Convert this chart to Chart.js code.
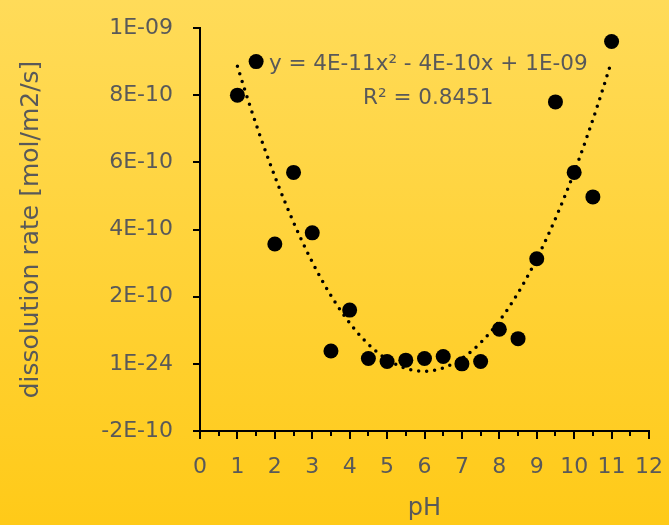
<!DOCTYPE html>
<html>
<head>
<meta charset="utf-8">
<script src="https://cdn.jsdelivr.net/npm/chart.js@4/dist/chart.umd.min.js"></script>
<style>
  html, body { margin: 0; padding: 0; background: #FFD23A; }
  #wrap { width: 669px; height: 525px; }
</style>
</head>
<body>
<div id="wrap"><canvas id="c" width="669" height="525"></canvas></div>
<script>
// Measured dissolution rates versus pH
const phValues = [1, 1.5, 2, 2.5, 3, 3.5, 4, 4.5, 5, 5.5, 6, 6.5, 7, 7.5, 8, 8.5, 9, 9.5, 10, 10.5, 11];
const rateValues = [8.0e-10, 9.0e-10, 3.57e-10, 5.7e-10, 3.9e-10, 0.38e-10, 1.6e-10, 0.16e-10, 0.07e-10, 0.11e-10,
                    0.16e-10, 0.22e-10, 0.0, 0.07e-10, 1.03e-10, 0.75e-10, 3.13e-10, 7.8e-10, 5.7e-10, 4.97e-10, 9.6e-10];

// Axis tick labels (spreadsheet-style scientific notation)
const yTickLabels = ['-2E-10', '1E-24', '2E-10', '4E-10', '6E-10', '8E-10', '1E-09'];
const xTickLabels = ['0', '1', '2', '3', '4', '5', '6', '7', '8', '9', '10', '11', '12'];

// Trendline annotation text
const trendLabels = ['y = 4E-11x\u00B2 - 4E-10x + 1E-09', 'R\u00B2 = 0.8451'];

const FONT = "'DejaVu Sans', 'Noto Sans', sans-serif";
const TEXT = '#595959';

// Least-squares quadratic fit of the measurements
function quadFit(xs, ys) {
  let s0 = xs.length, s1 = 0, s2 = 0, s3 = 0, s4 = 0, t0 = 0, t1 = 0, t2 = 0;
  for (let i = 0; i < xs.length; i++) {
    const x = xs[i], y = ys[i] * 1e10;
    s1 += x; s2 += x * x; s3 += x * x * x; s4 += x * x * x * x;
    t0 += y; t1 += x * y; t2 += x * x * y;
  }
  // Solve the normal equations with Cramer's rule
  const det3 = (m) => m[0][0] * (m[1][1] * m[2][2] - m[1][2] * m[2][1])
                    - m[0][1] * (m[1][0] * m[2][2] - m[1][2] * m[2][0])
                    + m[0][2] * (m[1][0] * m[2][1] - m[1][1] * m[2][0]);
  const A = [[s4, s3, s2], [s3, s2, s1], [s2, s1, s0]];
  const B = [t2, t1, t0];
  const D = det3(A);
  const coef = [0, 1, 2].map(k => det3(A.map((row, r) => row.map((v, c) => c === k ? B[r] : v))) / D);
  return coef.map(v => v * 1e-10); // [a, b, c]
}

const [qa, qb, qc] = quadFit(phValues, rateValues);
const trendPoints = [];
for (let i = 0; i <= 200; i++) {
  const x = phValues[0] + (phValues[phValues.length - 1] - phValues[0]) * i / 200;
  trendPoints.push({ x: x, y: qa * x * x + qb * x + qc });
}

const backgroundPlugin = {
  id: 'bg',
  beforeDraw(chart) {
    const ctx = chart.ctx;
    const g = ctx.createLinearGradient(0, 0, 0, chart.height);
    g.addColorStop(0, '#FFDB59');
    g.addColorStop(1, '#FFCA18');
    ctx.save();
    ctx.fillStyle = g;
    ctx.fillRect(0, 0, chart.width, chart.height);
    ctx.restore();
  }
};

// Half-unit minor tick marks on the pH axis and the trendline label
const extrasPlugin = {
  id: 'extras',
  afterDraw(chart) {
    const ctx = chart.ctx;
    const xs = chart.scales.x, ys = chart.scales.y;
    ctx.save();
    ctx.strokeStyle = '#000';
    ctx.lineWidth = 2;
    ctx.beginPath();
    for (let v = 0.5; v < 12; v += 1) {
      const px = Math.round(xs.getPixelForValue(v));
      ctx.moveTo(px, ys.bottom);
      ctx.lineTo(px, ys.bottom + 5);
    }
    ctx.stroke();

    ctx.fillStyle = TEXT;
    ctx.font = '21.5px ' + FONT;
    ctx.textAlign = 'center';
    ctx.textBaseline = 'middle';
    const cx = xs.getPixelForValue(6.1);
    ctx.fillText(trendLabels[0], cx, ys.getPixelForValue(8.91e-10));
    ctx.fillText(trendLabels[1], cx, ys.getPixelForValue(7.91e-10));
    ctx.restore();
  }
};

new Chart(document.getElementById('c'), {
  type: 'scatter',
  data: {
    datasets: [
      {
        label: 'Poly. (dissolution rate)',
        data: trendPoints,
        showLine: true,
        borderColor: '#000',
        borderWidth: 3.5,
        borderDash: [0, 8],
        borderCapStyle: 'round',
        pointRadius: 0,
        fill: false,
        tension: 0,
        order: 0
      },
      {
        label: 'dissolution rate',
        data: phValues.map((x, i) => ({ x: x, y: rateValues[i] })),
        backgroundColor: '#000',
        borderColor: '#000',
        borderWidth: 0,
        pointRadius: 7.5,
        order: 1
      }
    ]
  },
  options: {
    responsive: false,
    animation: false,
    events: [],
    layout: { padding: { left: 10, right: 20, top: 28, bottom: 0 } },
    plugins: { legend: { display: false }, tooltip: { enabled: false } },
    scales: {
      x: {
        type: 'linear',
        min: 0, max: 12,
        afterFit(scale) { scale.height = 94; scale.paddingLeft = 0; scale.paddingRight = 0; },
        ticks: {
          stepSize: 1,
          autoSkip: false,
          maxRotation: 0,
          padding: 15,
          color: TEXT,
          font: { family: FONT, size: 22 },
          callback: (v, i) => xTickLabels[i]
        },
        grid: { drawOnChartArea: false, drawTicks: true, tickLength: 8, color: '#000', lineWidth: 2 },
        border: { display: true, color: '#000', width: 2 },
        title: { display: true, text: 'pH', color: TEXT, font: { family: FONT, size: 24 }, padding: { top: 0, bottom: 2 } }
      },
      y: {
        type: 'linear',
        min: -2e-10, max: 1e-9,
        afterFit(scale) { scale.width = 190; scale.paddingTop = 0; scale.paddingBottom = 0; },
        ticks: {
          stepSize: 2e-10,
          autoSkip: false,
          padding: 20,
          color: TEXT,
          font: { family: FONT, size: 22 },
          callback: (v, i) => yTickLabels[i]
        },
        grid: { drawOnChartArea: false, drawTicks: true, tickLength: 7, color: '#000', lineWidth: 2 },
        border: { display: true, color: '#000', width: 2 },
        title: { display: true, text: 'dissolution rate [mol/m2/s]', color: TEXT, font: { family: FONT, size: 25 }, padding: { top: 6, bottom: 0 } }
      }
    }
  },
  plugins: [backgroundPlugin, extrasPlugin]
});
</script>
</body>
</html>
